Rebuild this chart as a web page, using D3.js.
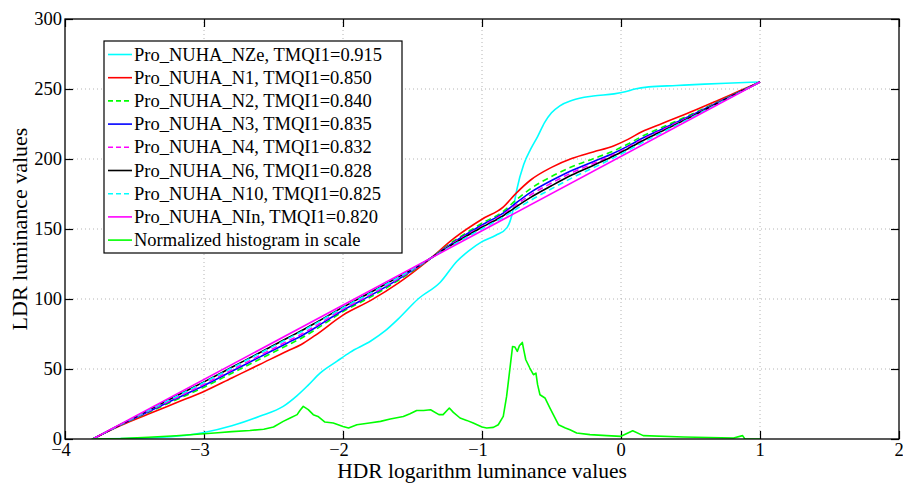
<!DOCTYPE html>
<html><head><meta charset="utf-8">
<script src="https://cdn.jsdelivr.net/npm/d3@7"></script>
<style>
html,body{margin:0;padding:0;background:#fff;}
</style></head>
<body><svg id="c" width="903" height="485"></svg>
<script>
// ---- data ----
const xTicks = [-4,-3,-2,-1,0,1,2];
const yTicks = [0,50,100,150,200,250,300];
const xLabel = "HDR logarithm luminance values";
const yLabel = "LDR luminance values";

// shared x grid of the Pro_NUHA_N* curves
const curveX = [-3.8,-3.6,-3.4,-3.2,-3.0,-2.8,-2.6,-2.4,-2.3,-2.2,-2.0,-1.8,-1.6,-1.4,-1.2,-1.0,-0.85,-0.75,-0.65,-0.5,-0.35,-0.2,-0.05,0.05,0.15,0.3,0.5,0.7,0.85,1.0];
const n1  = [0,9.6,17.8,25.9,34,43.6,53.2,62.9,67.5,74,88.5,99,111.5,126.5,143.5,157,165.5,176,185,194,200.5,205,209.5,214,219.5,225.5,233.5,242,248.5,255];
const n2  = [0,10,19,28,37,47,57,67,72,78,91,101.5,113.4,127,141.6,154.1,162.4,171.1,178.8,187.5,194.6,200.2,205.9,210.7,216.1,222.8,231.7,241,248,255];
const n3  = [0,10.1,19.5,28.9,38.25,48.35,58.5,68.6,73.6,79.5,92,102.6,114.2,127,140.8,152.9,161.1,169,176.2,184.6,192,198.1,204.3,209.2,214.6,221.6,231,240.5,247.7,255];
const n4  = [0,10.2,19.9,29.5,39.1,49.3,59.5,69.8,74.8,80.6,92.8,103.3,114.7,127.1,140.3,152.05,160.2,167.6,174.4,182.8,190.4,196.75,203.3,208.3,213.7,220.9,230.4,240.3,247.6,255];
const n6  = [0,10.3,20.6,30.7,40.8,51.2,61.6,72.1,77.3,82.8,94.2,104.8,115.8,127.2,139.7,151.2,159.3,166.2,172.6,180.9,188.7,195.4,202.3,207.35,212.7,220.1,229.9,240,247.45,255];
const n10 = [0,10.35,20.4,30.4,40.4,50.7,61.1,71.5,76.65,82.25,93.8,104.4,115.5,127.25,139.1,150.2,158.3,164.5,170.5,178.7,186.6,193.7,201,206.2,211.5,219.2,229.3,239.6,247.3,255];
const nInX = [-3.8,1.0];
const nIn  = [0,255];

const nzeX = [-3.8,-3.5,-3.3,-3.1,-3.0,-2.8,-2.6,-2.43,-2.33,-2.25,-2.165,-2.045,-1.95,-1.8,-1.7,-1.6,-1.46,-1.3,-1.18,-1.1,-1.0,-0.9,-0.82,-0.78,-0.75,-0.7,-0.65,-0.6,-0.55,-0.5,-0.44,-0.35,-0.2,-0.05,0.03,0.1,0.2,0.4,0.6,0.8,1.0];
const nze  = [0,0.5,1.2,3,4.7,9.5,16.3,23.3,31,38.5,47,55.4,61.9,70,77,86,100,112,127,134,141,145.5,151,162,178,196,207,216,226,233,238,242,245,246.5,248,250,251.5,252.5,253.5,254.3,255];

const histX = [-3.81,-3.6,-3.4,-3.2,-3.0,-2.9,-2.8,-2.67,-2.57,-2.5,-2.43,-2.38,-2.33,-2.31,-2.286,-2.25,-2.214,-2.18,-2.13,-2.07,-2.0,-1.96,-1.9,-1.81,-1.73,-1.66,-1.566,-1.518,-1.47,-1.42,-1.37,-1.31,-1.28,-1.235,-1.206,-1.158,-1.11,-1.063,-1.0,-0.966,-0.918,-0.883,-0.847,-0.823,-0.8,-0.78,-0.763,-0.746,-0.731,-0.71,-0.7,-0.685,-0.656,-0.63,-0.612,-0.6,-0.583,-0.547,-0.511,-0.487,-0.45,-0.4,-0.367,-0.319,-0.223,-0.103,0.0,0.084,0.16,0.45,0.81,0.875,0.89,1.0];
const hist  = [0,0.3,1.2,2.3,3.8,4.5,5.3,6.1,7,8.6,12.6,15,17.4,20.4,23.3,21,17.4,16.1,12.1,11.4,9,7.9,10.2,11.4,12.6,14.3,16.1,18.1,20.4,20.4,20.9,17.4,17.4,22.1,19,15,13.3,11.4,8.6,7.9,8.3,10.2,16.1,30.4,49.5,66.1,65.7,62.6,66.6,69,63.8,56.6,50.7,45.9,47.1,38.8,31.6,29.3,22.1,17.4,10.2,7.9,6.6,4.3,3.1,2.4,1.9,5.9,2.4,1.4,0.7,2.4,0.2,0];

const seriesNames = ["Pro_NUHA_NZe, TMQI1=0.915","Pro_NUHA_N1, TMQI1=0.850","Pro_NUHA_N2, TMQI1=0.840","Pro_NUHA_N3, TMQI1=0.835","Pro_NUHA_N4, TMQI1=0.832","Pro_NUHA_N6, TMQI1=0.828","Pro_NUHA_N10, TMQI1=0.825","Pro_NUHA_NIn, TMQI1=0.820","Normalized histogram in scale"];
const seriesColors = ["#00ffff","#ff0000","#00ff00","#0000ff","#ff00ff","#000000","#00ffff","#ff00ff","#00ff00"];
const seriesDash = [null,null,"6,4",null,"6,4",null,"6,4",null,null];

// ---- chart ----
const FONT = "'Liberation Serif','DejaVu Serif','Times New Roman',serif";
const W=903,H=485;
const m={l:65,r:4,t:19,b:46};
const svg=d3.select("#c");
const x=d3.scaleLinear().domain([-4,2]).range([m.l,W-m.r]);
const y=d3.scaleLinear().domain([0,300]).range([H-m.b,m.t]);
const x0=x.range()[0],x1=x.range()[1],y0=y.range()[0],y1=y.range()[1];

// grid
const g=svg.append("g");
g.selectAll(".gx").data(xTicks.slice(1,-1)).join("line")
 .attr("x1",d=>x(d)).attr("x2",d=>x(d)).attr("y1",y0).attr("y2",y1)
 .attr("stroke","#b4b4b4").attr("stroke-width",1).attr("stroke-dasharray","1,3");
g.selectAll(".gy").data(yTicks.slice(1,-1)).join("line")
 .attr("y1",d=>y(d)).attr("y2",d=>y(d)).attr("x1",x0).attr("x2",x1)
 .attr("stroke","#b4b4b4").attr("stroke-width",1).attr("stroke-dasharray","1,3");

// axes with inward ticks
const fmt=d=>d<0?"\u2212"+Math.abs(d):String(d);
const axB=svg.append("g").attr("transform",`translate(0,${y0})`)
 .call(d3.axisTop(x).tickValues(xTicks).tickSize(8).tickFormat(""));
const axT=svg.append("g").attr("transform",`translate(0,${y1})`)
 .call(d3.axisBottom(x).tickValues(xTicks).tickSize(8).tickFormat(""));
const axL=svg.append("g").attr("transform",`translate(${x0},0)`)
 .call(d3.axisRight(y).tickValues(yTicks).tickSize(8).tickFormat(""));
const axR=svg.append("g").attr("transform",`translate(${x1},0)`)
 .call(d3.axisLeft(y).tickValues(yTicks).tickSize(8).tickFormat(""));
[axB,axT,axL,axR].forEach(a=>{a.select(".domain").remove();a.selectAll("line").attr("stroke","#000").attr("stroke-width",1.2);});

// tick labels
svg.append("g").selectAll("text").data(xTicks).join("text")
 .attr("x",d=>x(d)-(d<0?4:0)).attr("y",y0+17).attr("text-anchor","middle")
 .attr("font-family",FONT).attr("font-size",18.5).text(fmt);
svg.append("g").selectAll("text").data(yTicks).join("text")
 .attr("x",x0-3).attr("y",d=>y(d)+6).attr("text-anchor","end")
 .attr("font-family",FONT).attr("font-size",18.5).text(fmt);

// axis labels
svg.append("text").attr("x",x(-1)).attr("y",478).attr("text-anchor","middle")
 .attr("font-family",FONT).attr("font-size",21.5).text(xLabel);
svg.append("text").attr("transform",`translate(27,${(y0+y1)/2}) rotate(-90)`).attr("text-anchor","middle")
 .attr("font-family",FONT).attr("font-size",22).text(yLabel);

// clip
svg.append("clipPath").attr("id","clip").append("rect").attr("x",x0).attr("y",y1).attr("width",x1-x0).attr("height",y0-y1);
const plot=svg.append("g").attr("clip-path","url(#clip)");

const smooth=d3.line().x(d=>x(d[0])).y(d=>y(d[1])).curve(d3.curveMonotoneX);
const lin=d3.line().x(d=>x(d[0])).y(d=>y(d[1]));
const zip=(a,b)=>a.map((v,i)=>[v,b[i]]);
const series=[
 [zip(nzeX,nze),smooth],[zip(curveX,n1),smooth],[zip(curveX,n2),smooth],[zip(curveX,n3),smooth],
 [zip(curveX,n4),smooth],[zip(curveX,n6),smooth],[zip(curveX,n10),smooth],[zip(nInX,nIn),lin],[zip(histX,hist),lin]
];
series.forEach((s,i)=>{
 plot.append("path").attr("d",s[1](s[0])).attr("fill","none")
  .attr("stroke",seriesColors[i]).attr("stroke-width",1.6)
  .attr("stroke-dasharray",seriesDash[i]).attr("stroke-linejoin","round");
});

// frame
svg.append("rect").attr("x",x0).attr("y",y1).attr("width",x1-x0).attr("height",y0-y1)
 .attr("fill","none").attr("stroke","#000").attr("stroke-width",1.3);

// legend
const lg=svg.append("g");
lg.append("rect").attr("x",104).attr("y",41).attr("width",298).attr("height",212)
 .attr("fill","#fff").attr("stroke","#000").attr("stroke-width",1.2);
seriesNames.forEach((name,i)=>{
 const cy=54.5+i*23.2;
 lg.append("line").attr("x1",108).attr("x2",132).attr("y1",cy).attr("y2",cy)
  .attr("stroke",seriesColors[i]).attr("stroke-width",1.6).attr("stroke-dasharray",seriesDash[i]?"5,3":null);
 lg.append("text").attr("x",134).attr("y",cy+6).attr("font-family",FONT).attr("font-size",18.5).text(name);
});
</script></body></html>
